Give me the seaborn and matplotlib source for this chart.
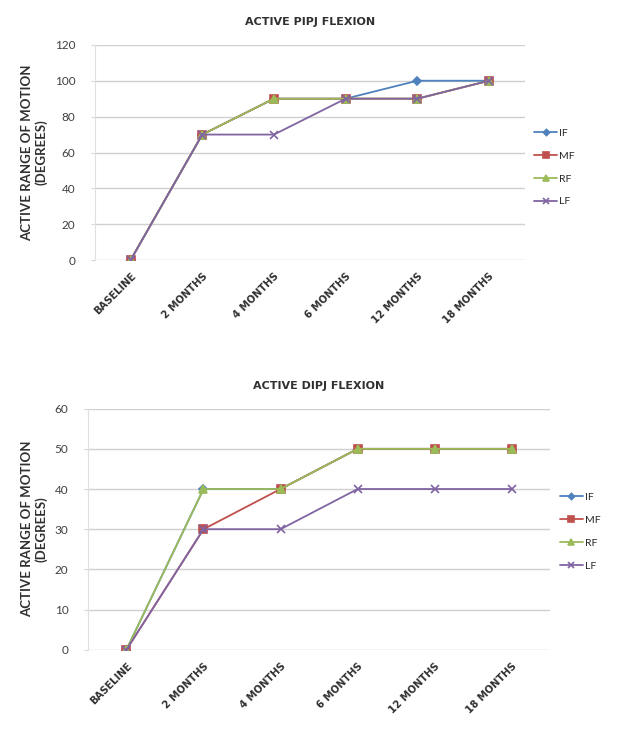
import numpy as np
import pandas as pd
import seaborn as sns
from matplotlib import pyplot as plt

# data
times = ['BASELINE', '2 MONTHS', '4 MONTHS', '6 MONTHS', '12 MONTHS', '18 MONTHS']
fingers = ['IF', 'MF', 'RF', 'LF']

pipj_if = [0, 70, 90, 90, 100, 100]
pipj_mf = [0, 70, 90, 90, 90, 100]
pipj_rf = [0, 70, 90, 90, 90, 100]
pipj_lf = [0, 70, 70, 90, 90, 100]

dipj_if = [0, 40, 40, 50, 50, 50]
dipj_mf = [0, 30, 40, 50, 50, 50]
dipj_rf = [0, 40, 40, 50, 50, 50]
dipj_lf = [0, 30, 30, 40, 40, 40]


def long_df(series):
    rows = []
    for f, vals in zip(fingers, series):
        for t, v in zip(times, vals):
            rows.append({'time': t, 'finger': f, 'value': v})
    return pd.DataFrame(rows)


pipj = long_df([pipj_if, pipj_mf, pipj_rf, pipj_lf])
dipj = long_df([dipj_if, dipj_mf, dipj_rf, dipj_lf])

sns.set_style('white')
plt.rcParams['font.family'] = ['Lato', 'DejaVu Sans']

colors = {'IF': '#4F81BD', 'MF': '#C0504D', 'RF': '#9BBB59', 'LF': '#8064A2'}
markers = {'IF': 'D', 'MF': 's', 'RF': '^', 'LF': 'x'}
msizes = {'IF': 4.5, 'MF': 6, 'RF': 6, 'LF': 6}

fig = plt.figure(figsize=(6.19, 7.35), dpi=100)
ax1 = fig.add_axes([0.153, 0.646, 0.695, 0.293])
ax2 = fig.add_axes([0.142, 0.116, 0.747, 0.328])


def draw(ax, df, title, ymax, step, leg_y):
    for f in fingers:
        sub = df[df['finger'] == f]
        sns.lineplot(data=sub, x='time', y='value', color=colors[f], marker=markers[f],
                     sort=False, markersize=msizes[f], linewidth=1.3,
                     markeredgewidth=1.2, markeredgecolor=colors[f], label=f, ax=ax)
    ax.set_xlim(-0.5, 5.5)
    ax.set_ylim(0, ymax)
    ax.set_yticks(np.arange(0, ymax + 1, step))
    ax.yaxis.grid(True, color='#d0d0d0', linewidth=1)
    ax.set_axisbelow(True)
    for s in ax.spines.values():
        s.set_visible(False)
    ax.spines['left'].set_visible(True)
    ax.spines['left'].set_color('#e0e0e0')
    ax.tick_params(axis='y', labelsize=8.5, colors='#404040', length=3, width=0.8,
                   color='#d8d8d8', left=True, pad=11)
    ax.set_xticks(range(len(times)))
    ax.set_xticklabels(times, rotation=45, ha='right', rotation_mode='anchor',
                       fontsize=7.2, fontweight='bold', color='#303030',
                       family='DejaVu Sans')
    ax.tick_params(axis='x', length=0, pad=8)
    ax.set_xlabel('')
    ax.set_ylabel('ACTIVE RANGE OF MOTION\n(DEGREES)', fontsize=9.5,
                  fontweight='bold', color='#303030', labelpad=5)
    ax.set_title(title, fontsize=8, fontweight='bold', color='#303030', pad=14,
                 family='DejaVu Sans')
    h, l = ax.get_legend_handles_labels()
    ax.legend(h, l, frameon=False, loc='center left', bbox_to_anchor=(1.0, leg_y),
              fontsize=7.5, handlelength=2.2, handletextpad=0.2, labelspacing=1.3,
              markerscale=0.7)


draw(ax1, pipj, 'ACTIVE PIPJ FLEXION', 120, 20, 0.43)
draw(ax2, dipj, 'ACTIVE DIPJ FLEXION', 60, 10, 0.49)

fig.savefig('out.png', dpi=100)
